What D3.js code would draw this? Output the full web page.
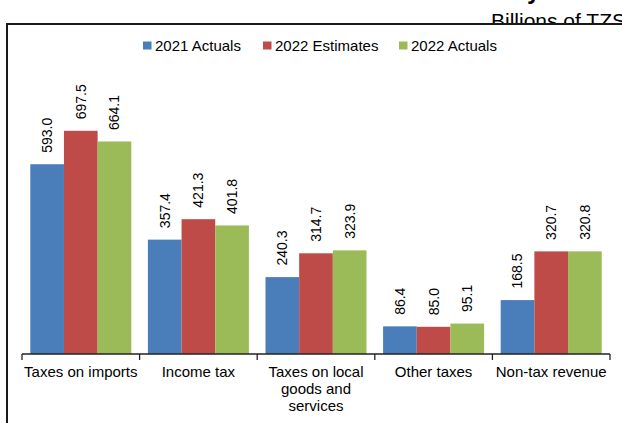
<!DOCTYPE html>
<html>
<head>
<meta charset="utf-8">
<script src="https://cdnjs.cloudflare.com/ajax/libs/d3/7.8.5/d3.min.js"></script>
<style>
  body { margin: 0; background: #fff; }
  svg { display: block; font-family: "Liberation Sans", Arial, sans-serif; }
</style>
</head>
<body>
<svg width="622" height="423"></svg>
<script>
// chart data
var categories = ["Taxes on imports", "Income tax", "Taxes on local goods and services", "Other taxes", "Non-tax revenue"];
var categoryLines = [["Taxes on imports"], ["Income tax"], ["Taxes on local", "goods and", "services"], ["Other taxes"], ["Non-tax revenue"]];
var seriesNames = ["2021 Actuals", "2022 Estimates", "2022 Actuals"];
var actuals2021 = [593.0, 357.4, 240.3, 86.4, 168.5];
var estimates2022 = [697.5, 421.3, 314.7, 85.0, 320.7];
var actuals2022 = [664.1, 401.8, 323.9, 95.1, 320.8];
var seriesColors = ["#4a7ebb", "#be4b48", "#9bbb59"];
var yMax = 800;

var allSeries = [actuals2021, estimates2022, actuals2022];

var svg = d3.select('svg');

// title leftovers above the chart frame (clipped by the frame)
svg.append('text').attr('x', 527).attr('y', -1)
    .style('font-size', '24px').style('font-weight', 'bold').text('y');
svg.append('text').attr('x', 491).attr('y', 28)
    .style('font-size', '21px').text('Billions of TZS');

// chart frame
svg.append('rect')
    .attr('x', 7).attr('y', 24).attr('width', 700).attr('height', 500)
    .attr('fill', '#fff').attr('stroke', '#1a1a1a').attr('stroke-width', 2);

// scales
var x = d3.scaleBand().domain(categories).range([22, 610]);
var inset = 8.3;
var x1 = d3.scaleBand().domain(seriesNames).range([inset, x.bandwidth() - inset]);
var y = d3.scaleLinear().domain([0, yMax]).range([354, 98]);

// bars
var groups = svg.append('g').selectAll('g')
    .data(categories)
    .enter().append('g')
    .attr('transform', function(d) { return 'translate(' + x(d) + ',0)'; });

var cells = groups.selectAll('g.cell')
    .data(function(d, i) {
        return seriesNames.map(function(s, j) { return { s: s, v: allSeries[j][i], c: seriesColors[j] }; });
    })
    .enter().append('g').attr('class', 'cell');

cells.append('rect')
    .attr('x', function(d) { return x1(d.s); })
    .attr('width', x1.bandwidth())
    .attr('y', function(d) { return y(d.v); })
    .attr('height', function(d) { return y(0) - y(d.v); })
    .attr('fill', function(d) { return d.c; });

cells.append('text')
    .attr('transform', function(d) {
        return 'translate(' + (x1(d.s) + x1.bandwidth() / 2) + ',' + (y(d.v) - 11.5) + ') rotate(-90)';
    })
    .attr('dy', '0.35em')
    .style('font-size', '14px')
    .attr('fill', '#000')
    .text(function(d) { return d.v.toFixed(1); });

// x axis
svg.append('line')
    .attr('x1', 22).attr('x2', 610).attr('y1', y(0)).attr('y2', y(0))
    .attr('stroke', '#222').attr('stroke-width', 1.3);

var tickPos = categories.map(function(d) { return x(d); }).concat([x.range()[1]]);
svg.append('g').selectAll('line')
    .data(tickPos)
    .enter().append('line')
    .attr('x1', function(d) { return d; }).attr('x2', function(d) { return d; })
    .attr('y1', y(0)).attr('y2', y(0) + 6)
    .attr('stroke', '#222').attr('stroke-width', 1.3);

var labels = svg.append('g').selectAll('text')
    .data(categories)
    .enter().append('text')
    .attr('text-anchor', 'middle')
    .style('font-size', '15px')
    .attr('fill', '#000');

labels.each(function(d, i) {
    var t = d3.select(this);
    categoryLines[i].forEach(function(line, k) {
        t.append('tspan')
            .attr('x', x(d) + x.bandwidth() / 2)
            .attr('y', 377 + k * 17)
            .text(line);
    });
});

// legend
var legendX = [143, 263, 399];
var legend = svg.append('g').selectAll('g')
    .data(seriesNames)
    .enter().append('g')
    .attr('transform', function(d, i) { return 'translate(' + legendX[i] + ',0)'; });

legend.append('rect')
    .attr('x', 0).attr('y', 41.5).attr('width', 8.5).attr('height', 8)
    .attr('fill', function(d, i) { return seriesColors[i]; });

legend.append('text')
    .attr('x', 12).attr('y', 50.5)
    .style('font-size', '15px')
    .text(function(d) { return d; });
</script>
</body>
</html>
